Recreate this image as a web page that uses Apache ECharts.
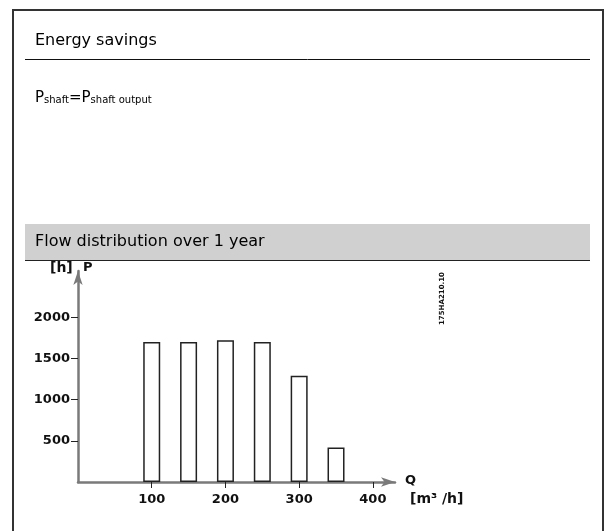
<!DOCTYPE html>
<html>
<head>
<meta charset="utf-8">
<script src="https://cdn.jsdelivr.net/npm/echarts@6/dist/echarts.min.js"></script>
<style>
html,body{margin:0;padding:0;background:#fff;}
#c{width:606px;height:531px;}
</style>
</head>
<body>
<div id="c"></div>
<script>
// ---- data ----
const flowValues = [100, 150, 200, 250, 300, 350];      // Q [m3/h]
const hoursValues = [1700, 1700, 1720, 1700, 1290, 420]; // [h]
const yTickValues = [500, 1000, 1500, 2000];
const xTickValues = [100, 200, 300, 400];
const titleText = 'Energy savings';
const sectionText = 'Flow distribution over 1 year';
const codeText = '175HA210.10';

const chart = echarts.init(document.getElementById('c'), null, {renderer: 'canvas'});
const axisFont = 'DejaVu Sans';
const headFont = 'DejaVu Sans';

const barData = flowValues.map((q, i) => [q, hoursValues[i]]);
const plain = v => String(v);

chart.setOption({
  animation: false,
  backgroundColor: '#fff',
  grid: {left: 78, top: 271, width: 317, height: 211, containLabel: false},
  xAxis: {
    type: 'value', min: 0, max: 430,
    splitLine: {show: false},
    axisLine: {show: true, onZero: false, symbol: ['none', 'arrow'], symbolSize: [7, 14],
      lineStyle: {color: '#7a7a7a', width: 2.5}},
    axisTick: {show: true, length: 6, customValues: xTickValues, lineStyle: {color: '#222', width: 1}},
    axisLabel: {show: true, customValues: xTickValues, margin: 11, formatter: plain,
      color: '#111', fontFamily: axisFont, fontWeight: 'bold', fontSize: 13}
  },
  yAxis: {
    type: 'value', min: 0, max: 2560,
    splitLine: {show: false},
    axisLine: {show: true, onZero: false, symbol: ['none', 'arrow'], symbolSize: [7, 14],
      lineStyle: {color: '#7a7a7a', width: 2.5}},
    axisTick: {show: true, length: 7, customValues: yTickValues, lineStyle: {color: '#222', width: 1}},
    axisLabel: {show: true, customValues: yTickValues, margin: 8, formatter: plain,
      color: '#111', fontFamily: axisFont, fontWeight: 'bold', fontSize: 13}
  },
  series: [{
    type: 'bar',
    data: barData,
    barWidth: 17,
    itemStyle: {color: '#fff', borderColor: '#222', borderWidth: 1.5},
    z: 3
  }],
  graphic: [
    // outer frame
    {type: 'line', shape: {x1: 13, y1: 10, x2: 13, y2: 531}, style: {stroke: '#333', lineWidth: 2}},
    {type: 'line', shape: {x1: 12, y1: 10, x2: 604, y2: 10}, style: {stroke: '#333', lineWidth: 2}},
    {type: 'line', shape: {x1: 603, y1: 10, x2: 603, y2: 531}, style: {stroke: '#333', lineWidth: 2}},
    // title
    {type: 'text', left: 35, top: 33, style: {text: titleText, font: '16px "' + headFont + '"', fill: '#000'}},
    {type: 'line', shape: {x1: 25, y1: 59.5, x2: 590, y2: 59.5}, style: {stroke: '#111', lineWidth: 1}},
    // formula
    {type: 'text', left: 35, top: 91, style: {
      text: '{b|P}{s|shaft}{b|=P}{s|shaft output}',
      rich: {
        b: {font: '15px "' + headFont + '"', fill: '#000', verticalAlign: 'bottom'},
        s: {font: '10px "' + headFont + '"', fill: '#000', verticalAlign: 'bottom', padding: [0, 0, 1, 0]}
      }
    }},
    // section band
    {type: 'rect', shape: {x: 25, y: 224, width: 565, height: 36}, style: {fill: '#d0d0d0'}},
    {type: 'line', shape: {x1: 25, y1: 260.5, x2: 590, y2: 260.5}, style: {stroke: '#222', lineWidth: 1.2}},
    {type: 'text', left: 35, top: 234, style: {text: sectionText, font: '16px "' + headFont + '"', fill: '#000'}},
    // axis names
    {type: 'text', left: 50, top: 261, style: {text: '[h]', font: 'bold 14px "' + axisFont + '"', fill: '#111'}},
    {type: 'text', left: 83, top: 261, style: {text: 'P', font: 'bold 13px "' + axisFont + '"', fill: '#111'}},
    {type: 'text', left: 405, top: 474, style: {text: 'Q', font: 'bold 13px "' + axisFont + '"', fill: '#111'}},
    {type: 'text', left: 410, top: 492, style: {text: '[m³ /h]', font: 'bold 14px "' + axisFont + '"', fill: '#111'}},
    // drawing code
    {type: 'text', x: 439, y: 325, rotation: Math.PI / 2, style: {text: codeText, font: 'bold 7px "' + axisFont + '"', fill: '#111'}}
  ]
});
</script>
</body>
</html>
